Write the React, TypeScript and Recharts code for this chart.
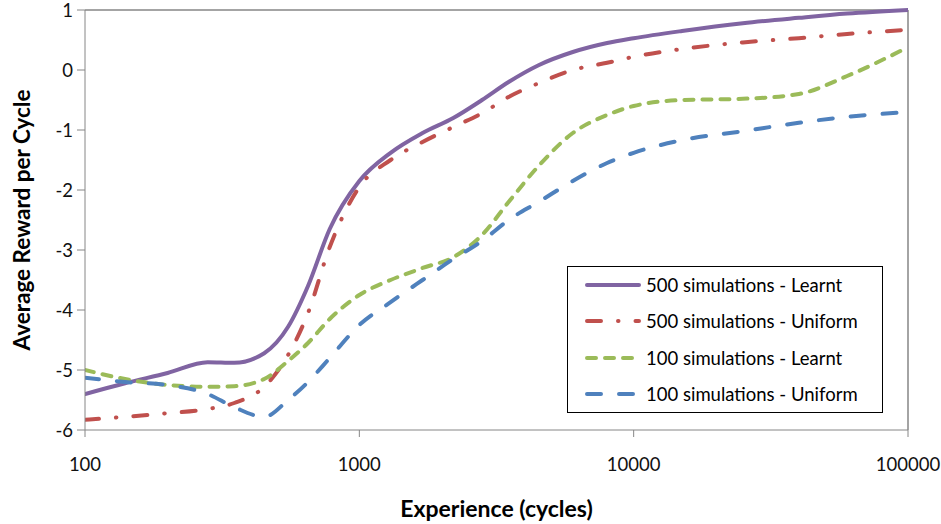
import React from 'react';
import { LineChart, Line, XAxis, YAxis, ReferenceLine, Label } from 'recharts';

const EXPERIENCE = [
  100, 140, 200, 280, 350, 450, 550, 650, 780, 1000, 1300, 1700, 2200, 2800,
  3500, 4500, 6000, 8000, 10000, 15000, 25000, 40000, 60000, 100000,
];

const SIM500_LEARNT = [
  -5.4, -5.22, -5.05, -4.87, -4.88, -4.72, -4.28, -3.6, -2.65, -1.85, -1.38, -1.05,
  -0.8, -0.5, -0.2, 0.08, 0.3, 0.45, 0.53, 0.65, 0.78, 0.87, 0.94, 1.0,
];

const SIM500_UNIFORM = [
  -5.83, -5.78, -5.72, -5.65, -5.55, -5.28, -4.75, -4.05, -2.95, -1.95, -1.5,
  -1.2, -0.95, -0.72, -0.45, -0.22, 0.0, 0.12, 0.22, 0.35, 0.46, 0.53, 0.6, 0.67,
];

const SIM100_LEARNT = [
  -5.0, -5.15, -5.25, -5.28, -5.27, -5.15, -4.85, -4.55, -4.15, -3.75, -3.5,
  -3.3, -3.12, -2.75, -2.2, -1.6, -1.05, -0.75, -0.6, -0.5, -0.48, -0.4, -0.1,
  0.38,
];

const SIM100_UNIFORM = [
  -5.13, -5.2, -5.25, -5.4, -5.62, -5.78, -5.5, -5.2, -4.8, -4.25, -3.87, -3.5,
  -3.15, -2.85, -2.5, -2.2, -1.85, -1.55, -1.38, -1.17, -1.02, -0.88, -0.78,
  -0.7,
];

const X_TICKS = [100, 1000, 10000, 100000];
const Y_TICKS = [-6, -5, -4, -3, -2, -1, 0, 1];

const SERIES = [
  { key: 'l500', name: '500 simulations - Learnt', color: '#8064A2', dash: undefined },
  { key: 'u500', name: '500 simulations - Uniform', color: '#C0504D', dash: '14 17 0.5 17' },
  { key: 'l100', name: '100 simulations - Learnt', color: '#9BBB59', dash: '9 9' },
  { key: 'u100', name: '100 simulations - Uniform', color: '#4F81BD', dash: '14 18' },
];

const data = EXPERIENCE.map((x, i) => ({
  x,
  l500: SIM500_LEARNT[i],
  u500: SIM500_UNIFORM[i],
  l100: SIM100_LEARNT[i],
  u100: SIM100_UNIFORM[i],
}));

const AXIS = '#868686';
const FONT = 'Lato, "Noto Sans", sans-serif';

// legend drawn as an overlay so the plot keeps its full height
const ChartLegend = () => (
  <div
    style={{
      position: 'absolute',
      left: 567,
      top: 266,
      width: 316,
      height: 147,
      border: '1.5px solid #000',
      background: '#fff',
      padding: '0 0 0 16px',
      fontFamily: FONT,
      fontSize: 18.5,
      color: '#000',
      boxSizing: 'border-box',
      display: 'flex',
      flexDirection: 'column',
      justifyContent: 'center',
    }}
  >
    {SERIES.map(s => (
      <div key={s.key} style={{ display: 'flex', alignItems: 'center', height: 37, whiteSpace: 'nowrap' }}>
        <svg width={58} height={10} style={{ marginRight: 4, flexShrink: 0 }}>
          <line
            x1={3}
            y1={5}
            x2={55}
            y2={5}
            stroke={s.color}
            strokeWidth={4}
            strokeLinecap="round"
            strokeDasharray={s.dash}
          />
        </svg>
        <span>{s.name}</span>
      </div>
    ))}
  </div>
);

export default function App() {
  return (
    <div style={{ position: 'absolute', left: 0, top: 0, width: 941, height: 524, background: '#fff' }}>
      <LineChart
        width={941}
        height={524}
        data={data}
        margin={{ top: 10, right: 33, left: 0, bottom: 0 }}
      >
        <XAxis
          dataKey="x"
          type="number"
          scale="log"
          domain={[100, 100000]}
          ticks={X_TICKS}
          allowDataOverflow
          height={94}
          stroke={AXIS}
          tickSize={7}
          tickMargin={21}
          tick={{ fill: '#111', fontSize: 18.5, fontFamily: FONT }}
        >
          <Label
            content={({ viewBox }: any) => (
              <text
                x={viewBox.x + viewBox.width / 2}
                y={508}
                textAnchor="middle"
                dominantBaseline="central"
                fontFamily={FONT}
                fontWeight="bold"
                fontSize={23}
                fill="#000"
              >
                Experience (cycles)
              </text>
            )}
          />
        </XAxis>
        <YAxis
          type="number"
          domain={[-6, 1]}
          ticks={Y_TICKS}
          width={85}
          stroke={AXIS}
          tickSize={8}
          tickMargin={4}
          tick={{ fill: '#111', fontSize: 18.5, fontFamily: FONT }}
        >
          <Label
            content={({ viewBox }: any) => {
              const cy = viewBox.y + viewBox.height / 2;
              return (
                <text
                  x={21}
                  y={cy}
                  transform={`rotate(-90 21 ${cy})`}
                  textAnchor="middle"
                  dominantBaseline="central"
                  fontFamily={FONT}
                  fontWeight="bold"
                  fontSize={22.5}
                  fill="#000"
                >
                  Average Reward per Cycle
                </text>
              );
            }}
          />
        </YAxis>
        <ReferenceLine y={1} stroke={AXIS} strokeWidth={1.5} />
        <ReferenceLine x={100000} stroke={AXIS} strokeWidth={1.5} />
        {SERIES.map(s => (
          <Line
            key={s.key}
            dataKey={s.key}
            name={s.name}
            type="monotone"
            stroke={s.color}
            strokeWidth={4}
            strokeLinecap="round"
            strokeDasharray={s.dash}
            dot={false}
            activeDot={false}
            isAnimationActive={false}
          />
        ))}
      </LineChart>
      <ChartLegend />
    </div>
  );
}
